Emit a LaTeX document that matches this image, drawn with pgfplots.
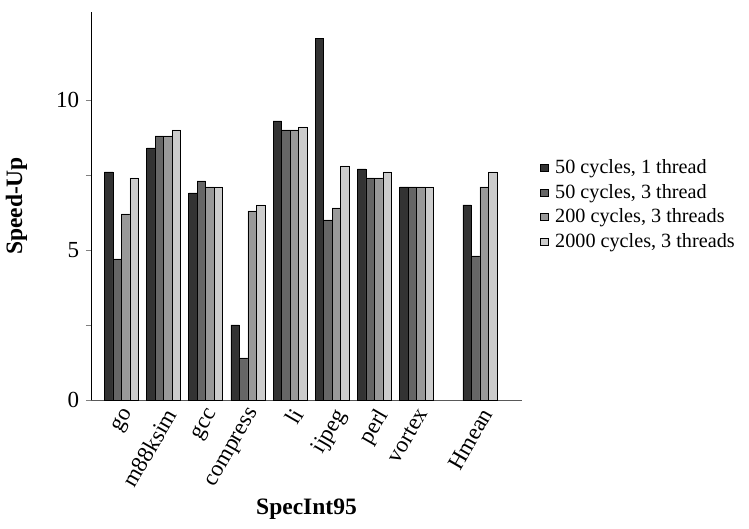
\documentclass[border=0pt]{standalone}
\usepackage{pgfplots}
\pgfplotsset{compat=1.18}
\usepackage{fontspec}
\setmainfont{Liberation Serif}
\definecolor{cA}{HTML}{333333}
\definecolor{cB}{HTML}{666666}
\definecolor{cC}{HTML}{999999}
\definecolor{cD}{HTML}{CCCCCC}
\begin{document}
\fontsize{20bp}{24bp}\selectfont
\begin{tikzpicture}
\path[use as bounding box] (-91bp,-129bp) rectangle (658bp,400bp);
\begin{axis}[
  at={(0,0)}, anchor=south west,
  scale only axis, width=431bp, height=388bp,
  xmin=-0.72, xmax=9.5, ymin=0, ymax=12.93,
  axis x line=bottom, axis y line=left,
  axis line style={-},
  x axis line style={draw=black!65},
  /pgf/number format/assume math mode=true,
  ytick={0,5,10}, minor ytick={2.5,7.5},
  tick align=outside, major tick length=5bp, minor tick length=5bp,
  y tick label style={font=\fontsize{23bp}{26bp}\selectfont},
  xtick={0,1,2,3,4,5,6,7,8.5},
  xticklabels={go,m88ksim,gcc,compress,li,ijpeg,perl,vortex,Hmean},
  x tick label style={rotate=60, anchor=north east, inner sep=1bp, font=\fontsize{23bp}{26bp}\selectfont},
  xtick style={draw=none},
  ybar=0pt, bar width=8.5bp,
  every axis plot/.append style={draw=black, line width=0.5bp},
  ylabel={\textbf{Speed-Up}},
  xlabel={\textbf{SpecInt95}},
  label style={font=\fontsize{23.5bp}{26bp}\selectfont},
  ylabel style={at={(axis description cs:-0.132,0.5)}, anchor=south},
  xlabel style={at={(axis description cs:0.5,0)}, anchor=north, yshift=-92bp},
  legend cell align=left,
  legend style={at={(1.0418,0.624)}, anchor=north west, draw=none, fill=none,
    font=\fontsize{20.2bp}{23bp}\selectfont, row sep=4.5bp, inner sep=0bp,
    nodes={inner sep=1.5bp}},
  legend image code/.code={\draw[#1,draw=black,line width=0.5bp] (0bp,-3.5bp) rectangle (8bp,3.5bp); \path (13bp,0bp);},
]
\addplot[fill=cA] coordinates {(0,7.6) (1,8.4) (2,6.9) (3,2.5) (4,9.3) (5,12.05) (6,7.7) (7,7.1) (8.5,6.5)};
\addplot[fill=cB] coordinates {(0,4.7) (1,8.8) (2,7.3) (3,1.4) (4,9.0) (5,6.0) (6,7.4) (7,7.1) (8.5,4.8)};
\addplot[fill=cC] coordinates {(0,6.2) (1,8.8) (2,7.1) (3,6.3) (4,9.0) (5,6.4) (6,7.4) (7,7.1) (8.5,7.1)};
\addplot[fill=cD] coordinates {(0,7.4) (1,9.0) (2,7.1) (3,6.5) (4,9.1) (5,7.8) (6,7.6) (7,7.1) (8.5,7.6)};
\legend{50 cycles{,} 1 thread, 50 cycles{,} 3 thread, 200 cycles{,} 3 threads, 2000 cycles{,} 3 threads}
\end{axis}
\end{tikzpicture}
\end{document}
